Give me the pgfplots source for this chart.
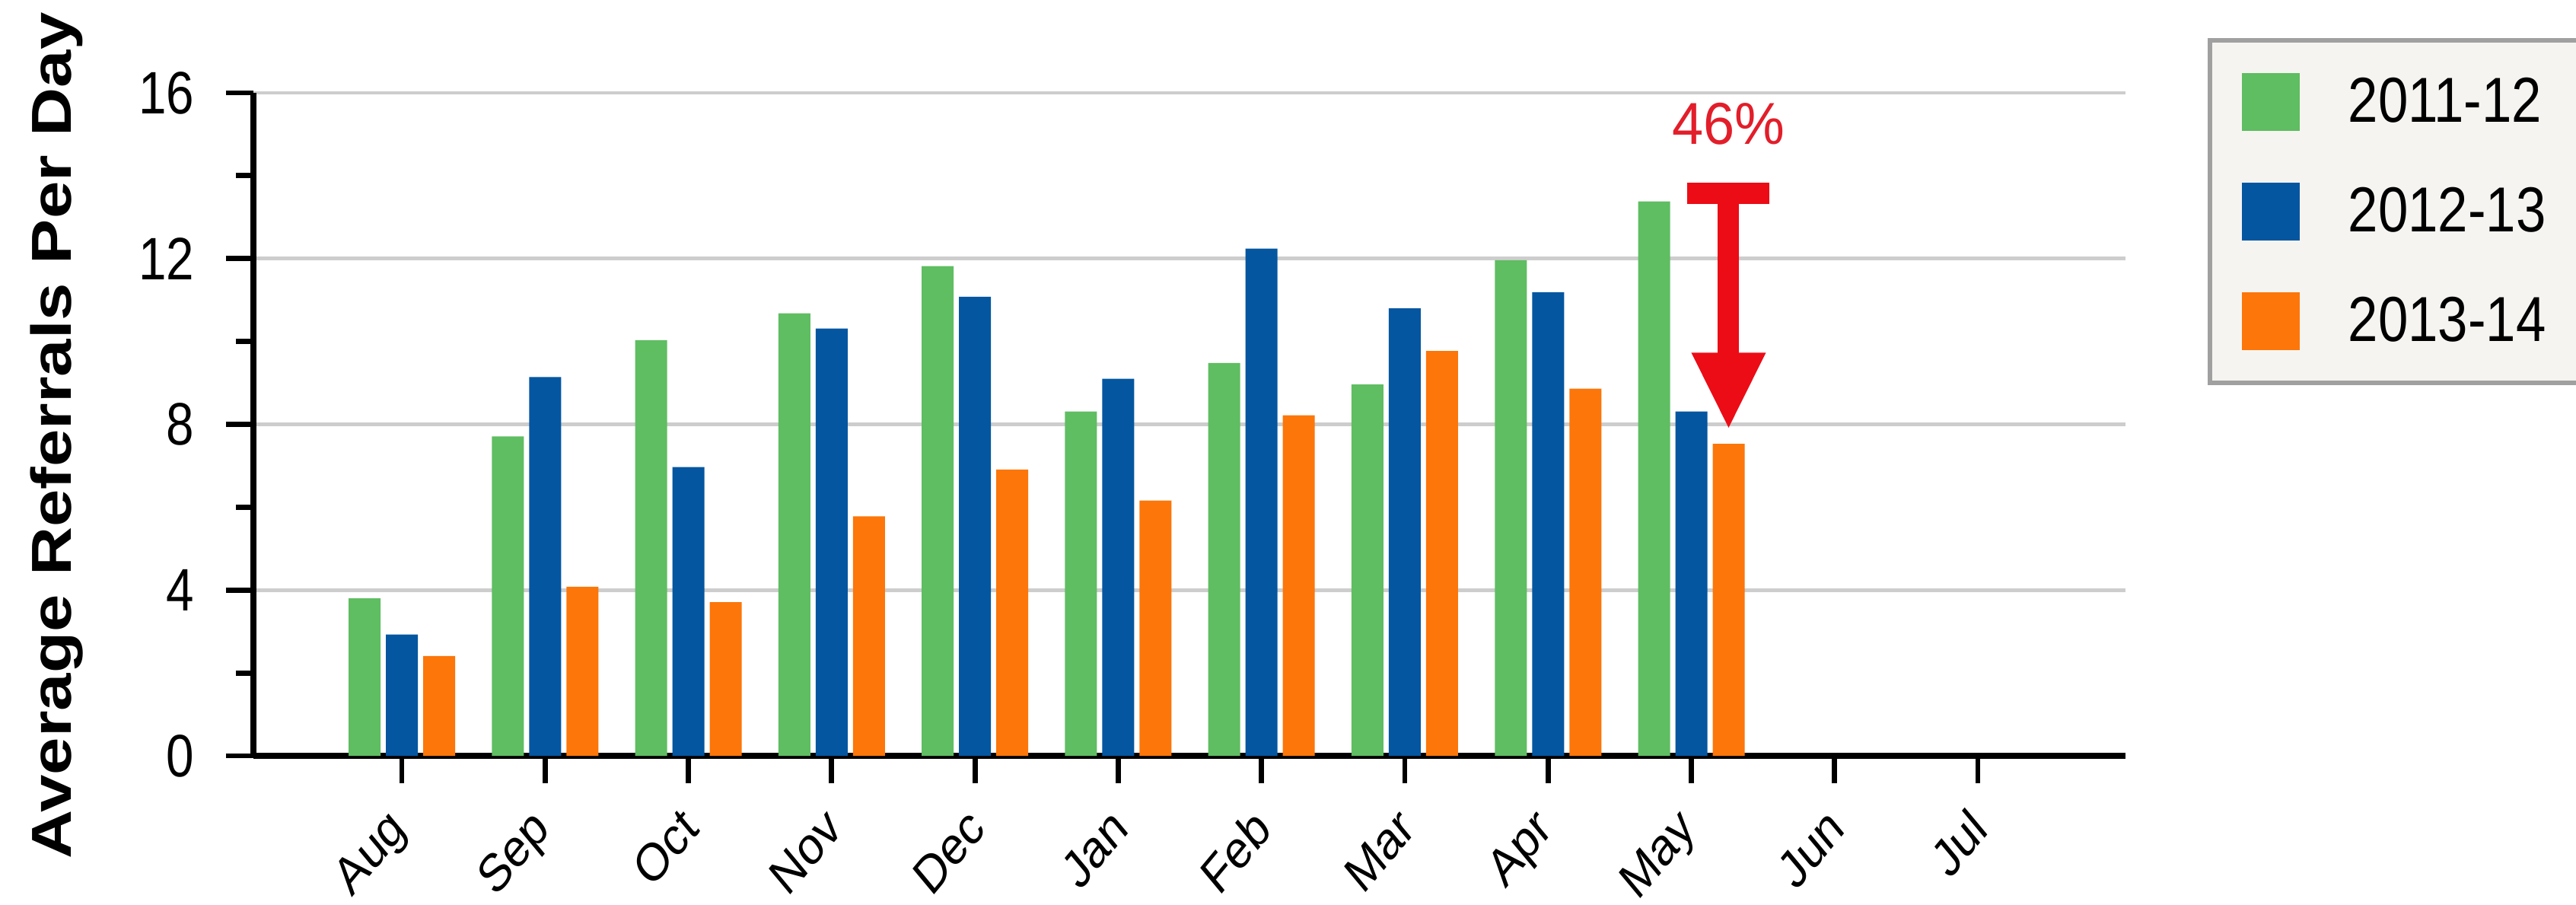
\documentclass[border=0pt]{standalone}
\usepackage{graphicx}
\usepackage{fontspec}
\setmainfont{Liberation Sans}
\usepackage{pgfplots}
\pgfplotsset{compat=1.18}

\definecolor{barGreen}{RGB}{95,189,98}
\definecolor{barBlue}{RGB}{4,86,160}
\definecolor{barOrange}{RGB}{252,118,10}
\definecolor{dropRed}{RGB}{236,12,22}
\definecolor{labelRed}{RGB}{226,30,42}
\definecolor{gridGray}{RGB}{205,205,205}
\definecolor{legendFill}{RGB}{246,244,241}
\definecolor{legendEdge}{RGB}{160,160,160}

% text that is a little taller than wide
\newcommand{\tall}[2][1.2]{\scalebox{1}[#1]{#2}}
% slanted month name, stretched like the other labels
\newcommand{\mlab}[1]{\scalebox{1}[1.2]{\rotatebox{45}{#1}}}
% legend entry: gap after the swatch, then the season
\newcommand{\season}[1]{\makebox[100pt][l]{\hspace*{16pt}\tall[1.18]{#1}}}

\begin{document}
\begin{tikzpicture}
\path[use as bounding box] (-83.25pt,-49pt) rectangle (763pt,248.25pt);
\begin{axis}[
  at={(0pt,0pt)}, anchor=south west,
  scale only axis, width=615pt, height=217.75pt,
  xmin=-1.036, xmax=12.03, ymin=0, ymax=16,
  enlarge x limits=false, enlarge y limits=false,
  axis lines*=left,
  axis line style={line width=2.2pt, black},
  ybar=1.75pt, bar width=10.5pt,
  xtick={0,...,11},
  xticklabels={\mlab{Aug},\mlab{Sep},\mlab{Oct},\mlab{Nov},\mlab{Dec},\mlab{Jan},
    \mlab{Feb},\mlab{Mar},\mlab{Apr},\mlab{May},\mlab{Jun},\mlab{Jul}},
  ytick={0,4,8,12,16},
  yticklabels={\tall{0},\tall{4},\tall{8},\tall{12},\tall{16}},
  minor ytick={2,6,10,14},
  tick align=outside,
  major tick length=9pt, minor tick length=5.75pt,
  tick style={line width=1.7pt, black},
  ymajorgrids, grid style={line width=1.2pt, gridGray},
  yticklabel style={font=\fontsize{16.4}{18}\selectfont, anchor=east, inner sep=0pt, xshift=-10.25pt},
  xticklabel style={font=\fontsize{14.5}{16}\selectfont, inner sep=0pt, anchor=north east, xshift=4.25pt, yshift=-7pt},
  ylabel={\scalebox{1.2}[1]{Average Referrals Per Day}},
  ylabel style={font=\bfseries\fontsize{18.5}{20}\selectfont, at={(axis description cs:-0.0907,0.483)}, anchor=south, inner sep=0pt},
  legend style={at={(axis description cs:1.045,1.079)}, anchor=north west,
    draw=legendEdge, line width=1.5pt, fill=legendFill,
    inner xsep=10.5pt, inner ysep=10.75pt, outer sep=0pt, row sep=17pt,
    font=\fontsize{17.7}{18}\selectfont, nodes={inner sep=0pt}},
  legend cell align=left,
  legend image code/.code={\fill[#1] (0pt,-9.5pt) rectangle (19pt,9.5pt);},
]
\addplot[fill=barGreen, draw=none] coordinates {
  (0,3.80) (1,7.71) (2,10.03) (3,10.68) (4,11.82)
  (5,8.31) (6,9.48) (7,8.96) (8,11.96) (9,13.38)};
\addlegendentry{\season{2011-12}}
\addplot[fill=barBlue, draw=none] coordinates {
  (0,2.93) (1,9.14) (2,6.97) (3,10.31) (4,11.08)
  (5,9.10) (6,12.24) (7,10.80) (8,11.19) (9,8.31)};
\addlegendentry{\season{2012-13}}
\addplot[fill=barOrange, draw=none] coordinates {
  (0,2.41) (1,4.08) (2,3.71) (3,5.78) (4,6.91)
  (5,6.16) (6,8.22) (7,9.77) (8,8.86) (9,7.53)};
\addlegendentry{\season{2013-14}}

% drop marker over the latest May bar
\fill[dropRed] ([xshift=-13.5pt]axis cs:9.26,13.83) rectangle ([xshift=13.5pt]axis cs:9.26,13.32);
\fill[dropRed] ([xshift=-3.5pt]axis cs:9.26,13.5) rectangle ([xshift=3.5pt]axis cs:9.26,9.6);
\fill[dropRed] ([xshift=-12.25pt]axis cs:9.26,9.73) -- ([xshift=12.25pt]axis cs:9.26,9.73) -- (axis cs:9.26,7.92) -- cycle;
\node[text=labelRed, font=\fontsize{18.5}{20}\selectfont] at (axis cs:9.26,15.26) {\tall[1.05]{46\%}};
\end{axis}
\end{tikzpicture}
\end{document}
